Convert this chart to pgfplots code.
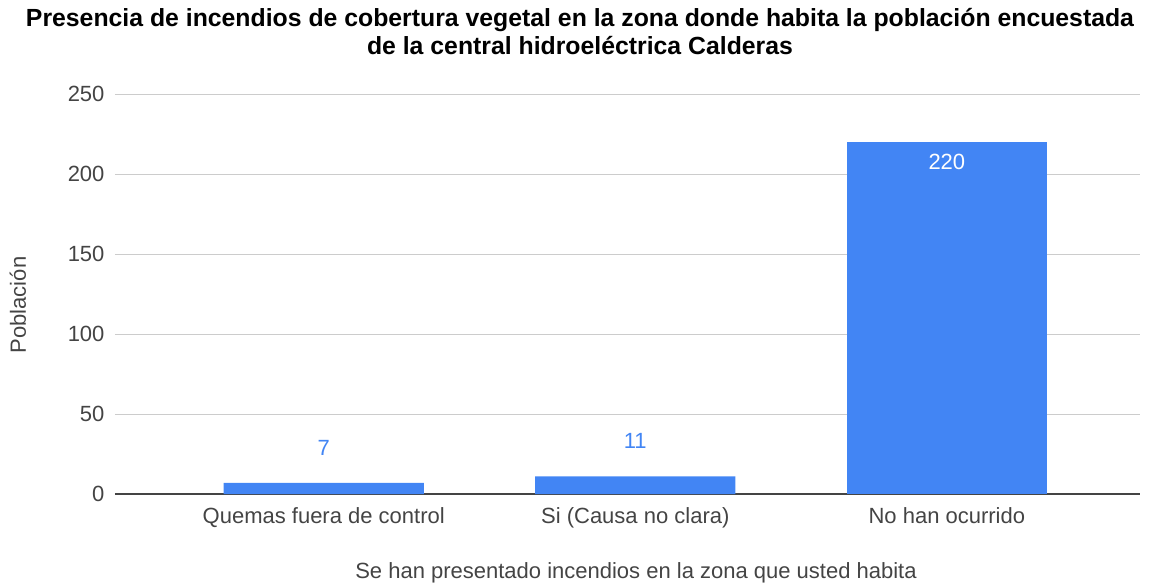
\documentclass[border=0pt]{standalone}
\usepackage{pgfplots}
\pgfplotsset{compat=1.18}
\usepackage{fontspec}
\setmainfont{Liberation Sans}
\definecolor{barblue}{HTML}{4285F4}
\definecolor{gridgray}{HTML}{CCCCCC}
\definecolor{txtgray}{HTML}{444444}
\begin{document}
\begin{tikzpicture}[x=1pt,y=1pt]
\useasboundingbox (-115,-93) rectangle (1039,494);
\begin{axis}[
  at={(0,0)}, anchor=south west,
  scale only axis, width=1025pt, height=400pt,
  xmin=-0.67, xmax=2.62, ymin=0, ymax=250,
  ytick={0,50,100,150,200,250},
  xtick={0,1,2},
  xticklabels={Quemas fuera de control, Si (Causa no clara), No han ocurrido},
  axis x line*=bottom, axis y line*=left,
  x axis line style={draw=txtgray, line width=1.2pt, -},
  y axis line style={draw=none},
  ymajorgrids, grid style={gridgray, line width=1pt},
  major tick length=0pt,
  tick label style={font=\fontsize{22}{24}\selectfont, text=txtgray},
  xticklabel style={yshift=-10pt},
  yticklabel style={xshift=-7pt},
  /pgf/number format/assume math mode=true,
  clip=false,
]
\addplot[ybar, bar width=0.643, bar shift=0pt, fill=barblue, draw=none,
  nodes near coords, every node near coord/.append style={text=barblue, font=\fontsize{22}{24}\selectfont, yshift=24pt}]
  coordinates {(0,7) (1,11)};
\addplot[ybar, bar width=0.643, bar shift=0pt, fill=barblue, draw=none,
  nodes near coords, every node near coord/.append style={text=white, font=\fontsize{22}{24}\selectfont, anchor=north, yshift=-9pt}]
  coordinates {(2,220)};
\end{axis}
\node[font=\bfseries\fontsize{24.8}{26}\selectfont] at (465,474) {Presencia de incendios de cobertura vegetal en la zona donde habita la población encuestada};
\node[font=\bfseries\fontsize{24.8}{26}\selectfont] at (465,448) {de la central hidroeléctrica Calderas};
\node[rotate=90, font=\fontsize{22}{24}\selectfont, text=txtgray] at (-97,189) {Población};
\node[font=\fontsize{22}{24}\selectfont, text=txtgray] at (521,-79) {Se han presentado incendios en la zona que usted habita};
\end{tikzpicture}
\end{document}
